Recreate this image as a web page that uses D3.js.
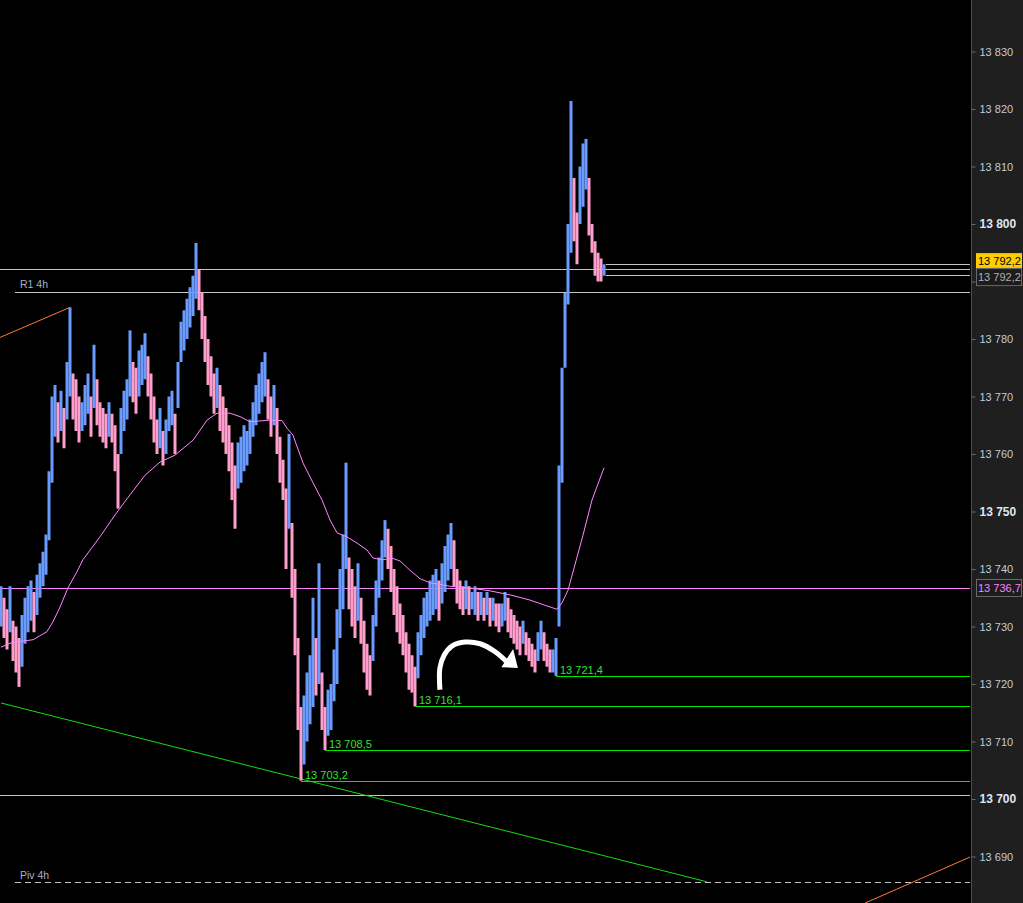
<!DOCTYPE html>
<html>
<head>
<meta charset="utf-8">
<script src="https://cdn.jsdelivr.net/npm/d3@7"></script>
<style>
  html, body { margin: 0; padding: 0; background: #000; overflow: hidden; }
  svg { display: block; }
  text { font-family: Arial, "Liberation Sans", sans-serif; }
</style>
</head>
<body>
<svg id="chart" width="1023" height="903"></svg>
<script>
// ---- tick bars: low / high per bar (price points) ----
const barLow = [
  13730,13728,13726,13729,13724,13722,13719.5,13723,13727,13729,
  13731,13729,13732,13735,13737,13739,13745,13755,13763,13762,
  13764,13761,13766,13770,13766,13764,13762,13764,13765,13767,
  13763,13768,13765,13763,13762,13761,13763,13762,13757,13750.5,
  13760,13764,13766,13770,13769,13767,13770,13772,13773,13770,
  13766,13762,13760,13761,13758,13760,13764,13765,13760,13768,
  13776,13778,13780,13782,13784,13787,13785,13780,13776,13772,
  13770,13767,13768,13764,13762,13760,13757,13752,13747,13754,
  13755,13757,13758,13760,13763,13765,13767,13769,13770,13766,
  13763,13765,13760,13755,13752,13740,13747,13735,13725,13712,
  13703.2,13706,13710,13713,13716,13718,13720,13712,13708.5,13711,
  13712,13717,13720,13728,13733,13740,13733,13730,13728,13731,
  13727,13722,13719,13718,13724,13730,13735,13738,13742,13740,
  13736,13732,13729,13727,13725,13722,13719,13718.5,13716.1,13721,
  13725,13728,13730,13731,13732,13733,13731,13734,13736,13738,
  13740,13737,13734,13733,13732,13733,13732,13733,13732,13731,
  13732,13731,13732,13730,13731,13730,13729,13730,13731,13729,
  13728,13727,13726,13725,13727,13725,13724,13723,13722,13724,
  13726,13724,13723,13722,13722,13721.4,13730,13755,13775,13786,
  13795,13797,13793,13800,13803,13806,13798,13795,13791,13790,
  13790,13791
];
const barHigh = [
  13737,13735,13733,13737,13731,13730,13728,13732,13735,13737,
  13738,13736,13739,13741,13743,13746,13757,13770,13772,13769,
  13771,13768,13776,13785.5,13774,13773,13770,13769,13772,13774,
  13770,13779,13773,13769,13768,13767,13769,13767,13765,13760,
  13768,13771,13773,13781.5,13776,13775,13778,13779,13781,13777,
  13774,13770,13766,13768,13764,13766,13770,13771,13767,13776,
  13783,13785,13787,13789,13791,13796.7,13792,13788,13784,13780,
  13777,13774,13775,13772,13770,13768,13765,13762,13758,13762,
  13763,13765,13764,13766,13769,13772,13774,13776,13777.7,13773,
  13770,13772,13768,13763,13759,13754,13763.5,13748,13740,13728,
  13716,13718,13722,13725,13735,13728,13741,13722,13716,13719,
  13720,13726,13733,13740,13746,13758.5,13742,13740,13737,13741,
  13735,13731,13727,13725,13732,13738,13742,13745,13748.5,13747,
  13744,13740,13737,13734,13732,13729,13727,13725,13723,13729,
  13732,13735,13736,13738,13739,13740,13738,13741,13744,13746,
  13748,13745,13740,13738,13737,13738,13737,13736,13737,13736,
  13736,13735,13736,13735,13735,13734,13734,13734,13736,13735,
  13733,13732,13731,13730,13731,13729,13728,13727,13726,13729,
  13731,13729,13727,13726,13726,13728,13758,13775,13788,13800,
  13821.4,13808,13802,13810,13814,13814.8,13808,13800,13797,13795,
  13794,13793
];

// ---- moving average (bar index, price) ----
const maIndex = [0,3,6.3,10.7,15.3,17.3,19.7,22.3,25.3,27.3,33,38,43,48,53,58,64,68.7,72,76.3,
  79.7,83,89.7,93.7,95.3,97.3,100.7,104,107,109.7,112,115.3,118.7,122,124,127.3,130.3,133,136.3,139.7,
  143,149.7,156.3,163,169.7,176.3,181.3,185.3,187,189,191.3,194,197,201];
const maValue = [13726.4,13727.1,13727.4,13727.7,13729.1,13730.8,13733.4,13736.7,13739.5,13741.6,
  13745.6,13749.4,13752.9,13756.3,13758.6,13759.8,13762.4,13765.9,13767.1,13767.1,
  13766.5,13765.6,13765.9,13765.8,13764.5,13763.3,13758.4,13755.0,13752.0,13748.5,
  13746.3,13745.6,13744.5,13743.3,13741.9,13741.6,13741.9,13741.4,13739.8,13738.3,
  13737.6,13737.0,13736.7,13736.2,13735.5,13734.6,13733.7,13733.0,13734.1,13736.3,
  13740.7,13745.9,13752.0,13757.6];

// ---- axis ticks ----
const priceTicks = [13690,13700,13710,13720,13730,13740,13750,13760,13770,13780,13790,13800,13810,13820,13830];
const boldTicks = [13700,13750,13800];

// ---- marked lows (price, bar index where the line starts) ----
const lowLevels = [13703.2, 13708.5, 13716.1, 13721.4];
const lowStart  = [100, 108, 138, 185];

// ---- other horizontal levels ----
const lastPrice = 13792.2;
const quoteLevels = [13793.1, 13791.2];
const r1Level = 13788.2;
const pivLevel = 13685.5;
const plainLevel = 13700.7;
const maLevelValue = 13736.7;

// ---- trend lines as (bar index, price) pairs ----
const greenTrend = [[0, 13716.7], [235.3, 13685.6]];
const orangeTrendA = [[-2, 13779.9], [23, 13785.5]];
const orangeTrendB = [[288, 13681.9], [323, 13689.9]];

// ---- hand-drawn arrow (bar index, price) ----
const arrowPath = [[146.3, 13719.0], [146.3, 13722.8], [147.7, 13725.0], [150.3, 13726.6], [154.7, 13727.3], [159.7, 13727.0], [164.7, 13725.6], [168.7, 13723.8]];
const arrowHead = [[170.7, 13726.1], [172.3, 13722.8], [166.8, 13722.9]];

const W = 1023, H = 903, plotRight = 970;
const svg = d3.select("#chart");
svg.append("rect").attr("width", W).attr("height", H).attr("fill", "#000");

const x = d3.scaleLinear().domain([0, 323]).range([1, plotRight]);
const y = d3.scaleLinear().domain([13700, 13800]).range([799, 224]);

const locale = d3.formatLocale({ decimal: ",", thousands: " ", grouping: [3], currency: ["", ""] });
const fmtInt = locale.format(",d");
const fmt1 = locale.format(",.1f");

const plot = svg.append("g");

// horizontal level lines
function hline(price, x0, color, dash) {
  plot.append("line")
    .attr("x1", x0).attr("x2", plotRight)
    .attr("y1", Math.round(y(price)) + 0.5).attr("y2", Math.round(y(price)) + 0.5)
    .attr("stroke", color).attr("stroke-width", 1)
    .attr("stroke-dasharray", dash || null);
}
hline(lastPrice, 0, "#c4c4c4");
hline(r1Level, 15, "#c4c4c4");
hline(plainLevel, 0, "#c4c4c4");
hline(pivLevel, 15, "#c4c4c4", "6,4");
hline(maLevelValue, 0, "#ff80ff");
quoteLevels.forEach(p => hline(p, x(barLow.length - 1) + 2, "#c4c4c4"));

plot.append("text").attr("x", 20).attr("y", y(r1Level) - 4)
  .attr("fill", "#a8b0c0").attr("font-size", 10.5).text("R1 4h");
plot.append("text").attr("x", 20).attr("y", y(pivLevel) - 3)
  .attr("fill", "#a8b0c0").attr("font-size", 10.5).text("Piv 4h");

// trend lines
const lineGen = d3.line().x(d => x(d[0])).y(d => y(d[1]));
plot.append("path").attr("d", lineGen(greenTrend)).attr("fill", "none").attr("stroke", "#10e010").attr("stroke-width", 1);
plot.append("path").attr("d", lineGen(orangeTrendA)).attr("fill", "none").attr("stroke", "#ff7a3a").attr("stroke-width", 1);
plot.append("path").attr("d", lineGen(orangeTrendB)).attr("fill", "none").attr("stroke", "#ff7a3a").attr("stroke-width", 1);

// tick bars
const bars = barLow.map((lo, i) => ({ i, lo, hi: barHigh[i] }));
plot.append("g").selectAll("rect").data(bars).join("rect")
  .attr("x", d => x(d.i) - 1.5)
  .attr("width", 3)
  .attr("y", d => y(d.hi))
  .attr("height", d => Math.max(1, y(d.lo) - y(d.hi)))
  .attr("fill", (d, k) => {
    if (k === 0) return "#6a9bff";
    const prev = bars[k - 1];
    return (d.lo + d.hi) >= (prev.lo + prev.hi) ? "#6a9bff" : "#ff9dcc";
  });

// moving average
const maPts = maIndex.map((v, k) => [v, maValue[k]]);
plot.append("path").attr("d", lineGen(maPts)).attr("fill", "none")
  .attr("stroke", "#ff88ff").attr("stroke-width", 1);

// marked lows
lowLevels.forEach((p, k) => {
  const x0 = x(lowStart[k]);
  const yy = Math.round(y(p)) + 0.5;
  plot.append("line").attr("x1", x0).attr("x2", plotRight).attr("y1", yy).attr("y2", yy)
    .attr("stroke", "#00e600").attr("stroke-width", 1);
  plot.append("text").attr("x", x0 + 4).attr("y", yy - 3)
    .attr("fill", "#2fe02f").attr("font-size", 11).text(fmt1(p));
});

// arrow
plot.append("path").attr("d", d3.line().curve(d3.curveCatmullRom).x(d => x(d[0])).y(d => y(d[1]))(arrowPath))
  .attr("fill", "none").attr("stroke", "#fff").attr("stroke-width", 5).attr("stroke-linecap", "butt");
plot.append("polygon").attr("points", arrowHead.map(d => [x(d[0]), y(d[1])].join(",")).join(" "))
  .attr("fill", "#fff");

// price axis panel
svg.append("rect").attr("x", 971).attr("y", 0).attr("width", W - 971).attr("height", H).attr("fill", "#1f1f1f");
const axis = d3.axisRight(y).tickValues(priceTicks).tickSize(4).tickPadding(4).tickFormat(fmtInt);
const ax = svg.append("g").attr("transform", "translate(971.5,0)").call(axis);
ax.select(".domain").attr("stroke", "#4d4d4d").attr("d", `M0,0V${H}`);
ax.selectAll(".tick line").attr("stroke", "#6a6a6a");
ax.selectAll(".tick text")
  .attr("fill", d => boldTicks.includes(d) ? "#dfe6f2" : "#c2cad8")
  .attr("font-size", d => boldTicks.includes(d) ? 12 : 11)
  .attr("font-weight", d => boldTicks.includes(d) ? "bold" : "normal")
  .attr("font-family", "Arial, 'Liberation Sans', sans-serif");

// price tags (they sit over any tick label they cover)
const tagBoxes = [];
function tag(cy, h, txt, fill, stroke, color) {
  svg.append("rect").attr("x", 976.5).attr("y", cy - h / 2).attr("width", 45).attr("height", h)
    .attr("fill", fill).attr("stroke", stroke);
  svg.append("text").attr("x", 978).attr("y", cy + 4).attr("font-size", 11)
    .attr("fill", color).text(txt);
  tagBoxes.push([cy - h / 2, cy + h / 2]);
}
tag(y(quoteLevels[0]) - 3, 14, fmt1(lastPrice), "#ffcc00", "#ffcc00", "#000");
tag(y(quoteLevels[1]) + 2.5, 17, fmt1(lastPrice), "#1c1c1c", "#6a6a6a", "#b0b0b0");
tag(y(maLevelValue), 17, fmt1(maLevelValue), "#1c1c1c", "#6a6a6a", "#ff80ff");

// hide tick labels hidden behind a tag
ax.selectAll(".tick text").attr("display", d => {
  const ty = y(d);
  return tagBoxes.some(b => ty > b[0] - 2 && ty < b[1] + 2) ? "none" : null;
});
</script>
</body>
</html>
